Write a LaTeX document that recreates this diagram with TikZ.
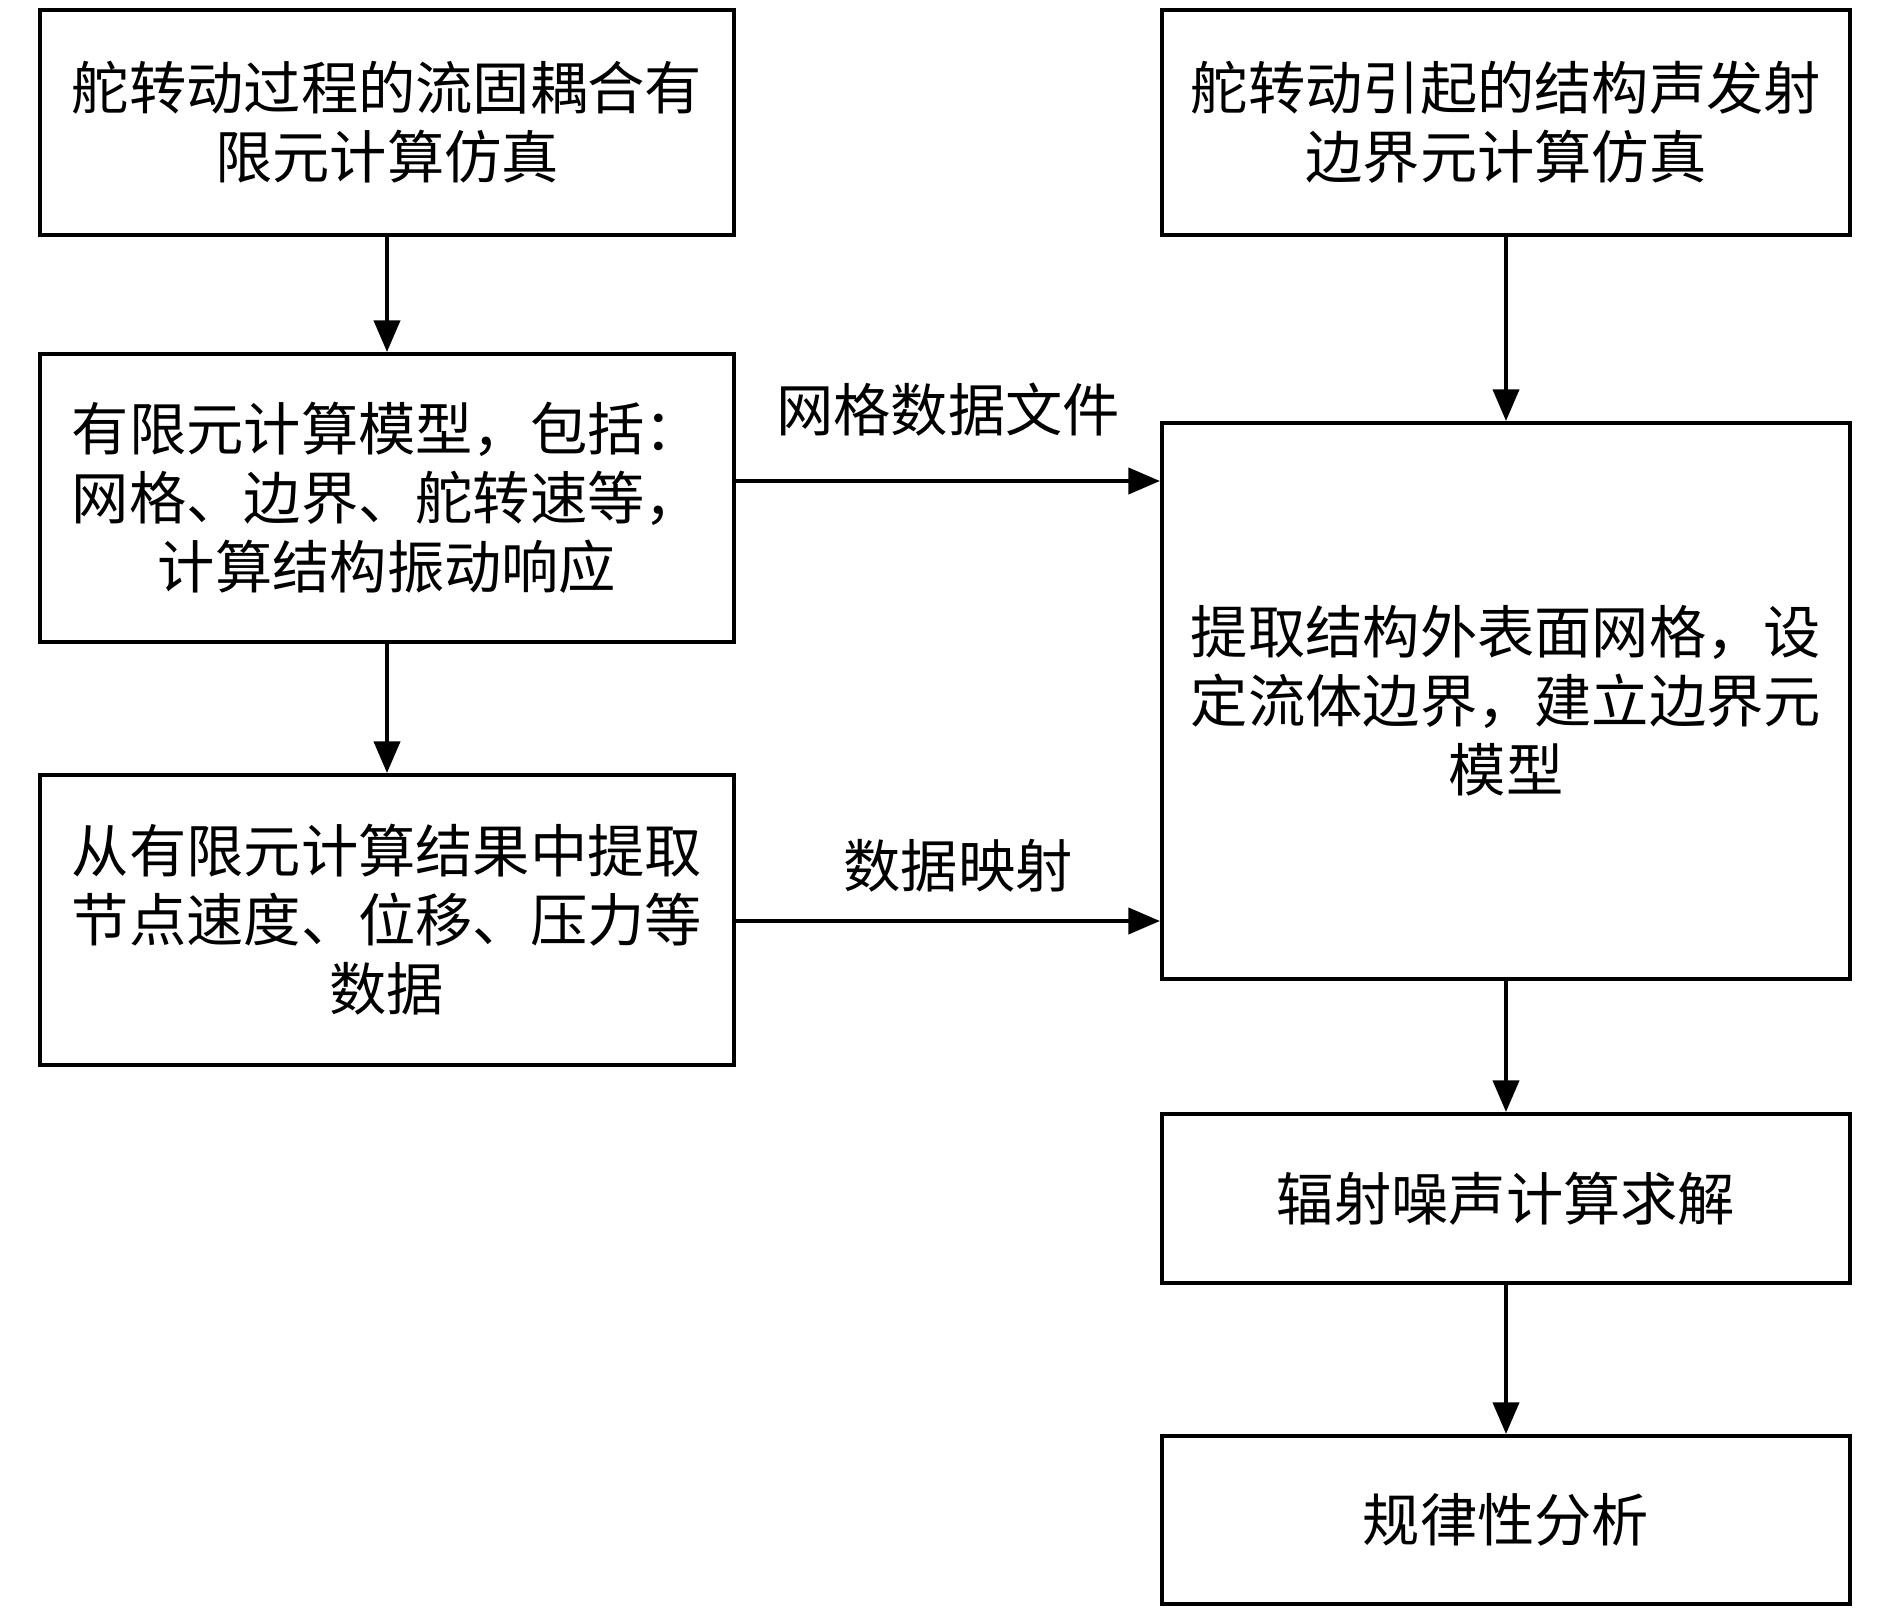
\documentclass[tikz,border=0pt]{standalone}
\usepackage{fontspec}
\setmainfont{Noto Sans CJK SC}
\usetikzlibrary{arrows.meta}
\tikzset{
  box/.style={draw, line width=1.2pt, align=center, inner sep=0pt,
    font=\fontsize{16.3pt}{19.6pt}\selectfont},
  lbox/.style={box, minimum width=6.94cm},
  rbox/.style={box, minimum width=6.88cm},
  arr/.style={line width=0.9pt, -{Triangle[length=9pt,width=7.5pt]}},
  lab/.style={font=\fontsize{16.3pt}{19.6pt}\selectfont, inner sep=0pt}
}
\begin{document}
\begin{tikzpicture}
\useasboundingbox (0,0) rectangle (18.9,-16.11);
\node[lbox, minimum height=2.25cm] (b1) at (3.87,-1.225) {舵转动过程的流固耦合有\\限元计算仿真};
\node[rbox, minimum height=2.25cm] (r1) at (15.06,-1.225) {舵转动引起的结构声发射\\边界元计算仿真};
\node[lbox, minimum height=2.88cm] (b2) at (3.87,-4.98) {有限元计算模型，包括：\\网格、边界、舵转速等，\\计算结构振动响应};
\node[lbox, minimum height=2.90cm] (b3) at (3.87,-9.20) {从有限元计算结果中提取\\节点速度、位移、压力等\\数据};
\node[rbox, minimum height=5.56cm] (big) at (15.06,-7.01) {提取结构外表面网格，设\\定流体边界，建立边界元\\模型};
\node[rbox, minimum height=1.69cm] (fs) at (15.06,-11.985) {辐射噪声计算求解};
\node[rbox, minimum height=1.68cm] (gl) at (15.06,-15.20) {规律性分析};
\node[lab] (l1) at (9.48,-4.10) {网格数据文件};
\node[lab] (l2) at (9.58,-8.66) {数据映射};
\draw[arr] (b1) -- (b2);
\draw[arr] (b2) -- (b3);
\draw[arr] (r1) -- (big);
\draw[arr] (big) -- (fs);
\draw[arr] (fs) -- (gl);
\draw[arr] (b2.east |- 0,-4.81) -- (big.west |- 0,-4.81);
\draw[arr] (b3.east |- 0,-9.21) -- (big.west |- 0,-9.21);
\end{tikzpicture}
\end{document}
